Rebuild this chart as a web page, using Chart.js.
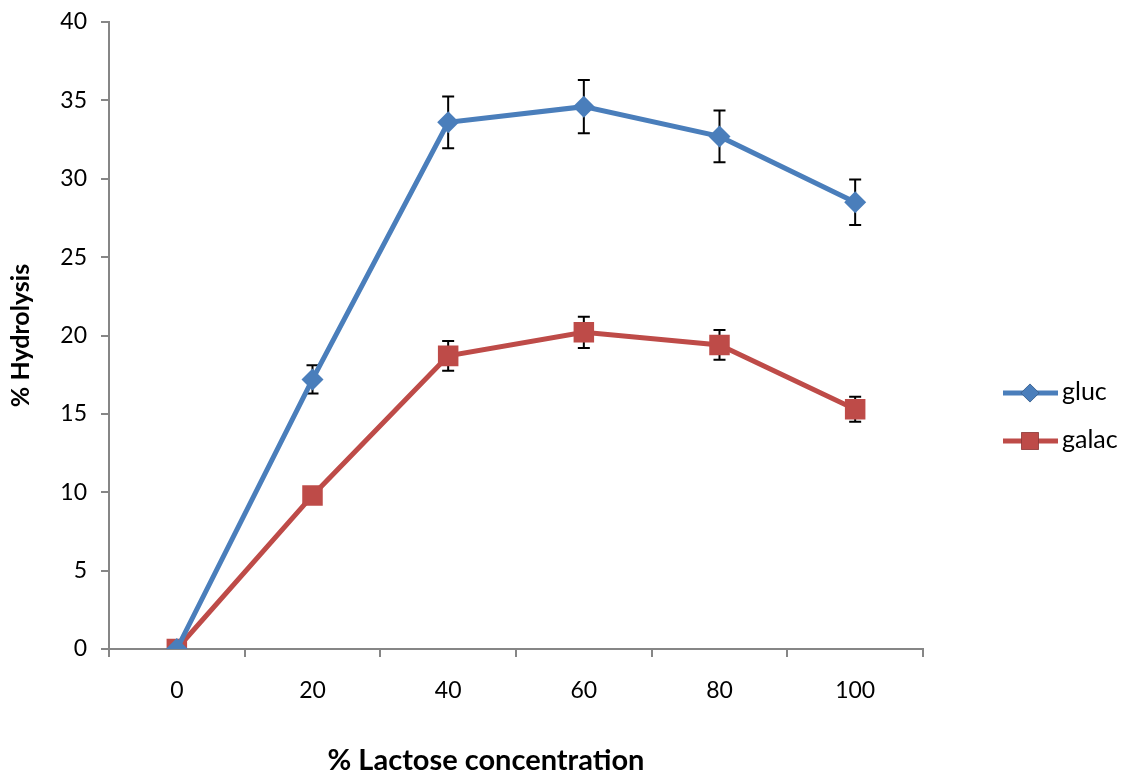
<!DOCTYPE html>
<html>
<head>
<meta charset="utf-8">
<script src="https://cdn.jsdelivr.net/npm/chart.js@4"></script>
<style>
  html, body { margin: 0; padding: 0; background: #fff; }
  #wrap { width: 1121px; height: 776px; }
</style>
</head>
<body>
<div id="wrap"><canvas id="hydrolysisChart" width="1121" height="776"></canvas></div>
<script>
const concentrations = ["0", "20", "40", "60", "80", "100"];
const glucValues = [0, 17.2, 33.6, 34.6, 32.7, 28.5];
const glucErrors = [0, 0.9, 1.65, 1.7, 1.65, 1.45];
const galacValues = [0, 9.8, 18.7, 20.2, 19.4, 15.3];
const galacErrors = [0, 0, 0.95, 1.0, 0.95, 0.8];

const axisGrey = "#868686";
const fontFamily = "Lato, 'Open Sans', sans-serif";

// black error bars with caps, drawn under the lines and markers
const errorBars = {
  id: "errorBars",
  beforeDatasetsDraw(chart) {
    const ctx = chart.ctx;
    const y = chart.scales.y;
    ctx.save();
    ctx.strokeStyle = "#000";
    ctx.lineWidth = 2;
    chart.data.datasets.forEach((ds, i) => {
      const meta = chart.getDatasetMeta(i);
      meta.data.forEach((pt, j) => {
        const e = ds.errors[j];
        if (!e) return;
        const top = y.getPixelForValue(ds.data[j] + e);
        const bot = y.getPixelForValue(ds.data[j] - e);
        ctx.beginPath();
        ctx.moveTo(pt.x, top); ctx.lineTo(pt.x, bot);
        ctx.moveTo(pt.x - 6, top); ctx.lineTo(pt.x + 6, top);
        ctx.moveTo(pt.x - 6, bot); ctx.lineTo(pt.x + 6, bot);
        ctx.stroke();
      });
    });
    ctx.restore();
  }
};

// legend on the right (short line with the marker in its middle)
// and the x axis title, which sits a little left of the plot centre
const sideLegend = {
  id: "sideLegend",
  afterDraw(chart) {
    const ctx = chart.ctx;
    ctx.save();
    chart.data.datasets.forEach((ds, i) => {
      const cy = 393 + i * 48;
      ctx.strokeStyle = ds.borderColor;
      ctx.lineWidth = 5;
      ctx.beginPath();
      ctx.moveTo(1003, cy); ctx.lineTo(1058, cy);
      ctx.stroke();
      Chart.helpers.drawPoint(ctx, {
        pointStyle: ds.pointStyle,
        radius: ds.pointRadius * 0.85,
        borderWidth: 0
      }, 1030, cy);
      ctx.fillStyle = ds.pointBackgroundColor;
      ctx.fill();
      ctx.fillStyle = "#000";
      ctx.font = "25px " + fontFamily;
      ctx.textBaseline = "middle";
      ctx.fillText(ds.label, 1062, cy - 1);
    });
    ctx.fillStyle = "#000";
    ctx.font = "bold 29px " + fontFamily;
    ctx.textAlign = "center";
    ctx.textBaseline = "middle";
    ctx.fillText("% Lactose concentration", 486, 761);
    ctx.restore();
  }
};

new Chart(document.getElementById("hydrolysisChart"), {
  type: "line",
  data: {
    labels: concentrations,
    datasets: [
      {
        label: "gluc",
        data: glucValues,
        errors: glucErrors,
        borderColor: "#4A7EBB",
        backgroundColor: "#4A7EBB",
        pointBackgroundColor: "#4A7EBB",
        pointStyle: "rectRot",
        pointRadius: 11,
        pointBorderWidth: 0,
        borderWidth: 5,
        tension: 0
      },
      {
        label: "galac",
        data: galacValues,
        errors: galacErrors,
        borderColor: "#BE4B48",
        backgroundColor: "#BE4B48",
        pointBackgroundColor: "#BE4B48",
        pointStyle: "rect",
        pointRadius: 14.5,
        pointBorderWidth: 0,
        borderWidth: 5,
        tension: 0
      }
    ]
  },
  options: {
    responsive: false,
    animation: false,
    layout: { padding: { top: 22, right: 198, left: 0, bottom: 0 } },
    plugins: {
      legend: { display: false },
      tooltip: { enabled: false }
    },
    scales: {
      x: {
        offset: true,
        grid: { offset: true, drawOnChartArea: false, tickLength: 8, color: axisGrey, lineWidth: 2 },
        border: { color: axisGrey, width: 2 },
        ticks: { color: "#000", font: { family: fontFamily, size: 23 }, padding: 20, maxRotation: 0 },
        afterFit(scale) { scale.height = 127; }
      },
      y: {
        min: 0,
        max: 40,
        ticks: { stepSize: 5, color: "#000", font: { family: fontFamily, size: 23 }, padding: 14 },
        grid: { drawOnChartArea: false, tickLength: 8, color: axisGrey, lineWidth: 2 },
        border: { color: axisGrey, width: 2 },
        title: {
          display: true,
          text: "% Hydrolysis",
          color: "#000",
          font: { family: fontFamily, size: 25, weight: "bold" },
          padding: { top: 6, bottom: 0 }
        },
        afterFit(scale) {
          scale.width = 109;
          scale.paddingTop = 0;
          scale.paddingBottom = 0;
        }
      }
    }
  },
  plugins: [errorBars, sideLegend]
});
</script>
</body>
</html>
